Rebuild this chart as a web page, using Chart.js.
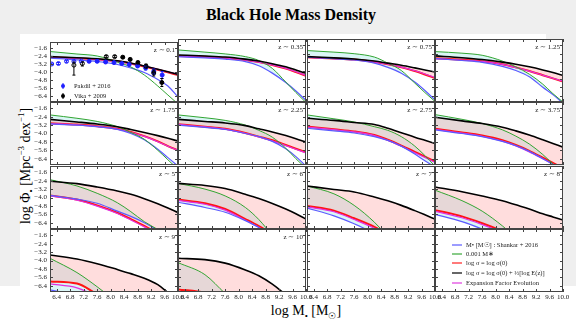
<!DOCTYPE html>
<html>
<head>
<meta charset="utf-8">
<script src="https://cdn.jsdelivr.net/npm/chart.js@4.4.0/dist/chart.umd.min.js"></script>
<style>
  body { margin: 0; width: 576px; height: 321px; background: #efefef; position: relative; overflow: hidden; font-family: "Liberation Serif", serif; }
  #sheet { position: absolute; left: 20px; top: 34px; width: 526px; height: 287px; background: #fff; }
  #strip { position: absolute; left: 0; top: 286px; width: 576px; height: 35px; background: #fff; }
  #title { position: absolute; left: 3px; width: 576px; top: 6px; text-align: center; font-weight: bold; font-size: 16px; }
  #ylab { position: absolute; left: 26px; top: 166px; transform: translate(-50%, -50%) rotate(-90deg); white-space: nowrap; font-size: 14px; }
  #xlab { position: absolute; left: 306px; top: 312px; transform: translate(-50%, -50%); white-space: nowrap; font-size: 14px; }
  sup, sub { font-size: 9px; }
  canvas { position: absolute; }
</style>
</head>
<body>
<div id="sheet"></div>
<div id="strip"></div>
<div id="title">Black Hole Mass Density</div>
<div id="ylab">log Φ<sub>•</sub> [Mpc<sup>−3</sup> dex<sup>−1</sup>]</div>
<div id="xlab">log M<sub>•</sub> [M<sub>☉</sub>]</div>
<script>
Chart.defaults.font.family = '"Liberation Serif", serif';

// --- data ---
const massGrid = [6.2, 7.0, 7.6, 8.2, 8.6, 9.0, 9.4, 9.7, 10.0];
const massTicks = [6.4, 6.8, 7.2, 7.6, 8.0, 8.4, 8.8, 9.2, 9.6, 10.0];
const phiTicks = [-1.6, -2.4, -3.2, -4.0, -4.8, -5.6, -6.4];
const redshifts = ['0.1', '0.35', '0.75', '1.25', '1.75', '2.25', '2.75', '3.75', '5', '6', '7', '8', '9', '10'];

// blue: Shankar + 2016
const shankarPhi = [
  [-2.61, -2.78, -2.95, -3.25, -3.6, -4.05, -4.75, -5.4, -6.5],
  [-2.68, -2.8, -2.92, -3.15, -3.55, -4.25, -5.15, -5.95, -6.85],
  [-2.74, -2.88, -3.0, -3.3, -3.7, -4.26, -5.1, -5.9, -6.8],
  [-2.86, -3.05, -3.22, -3.6, -4.0, -4.6, -5.6, -6.3, -7.1],
  [-3.09, -3.2, -3.35, -3.6, -4.0, -4.6, -5.5, -6.3, -7.1],
  [-3.2, -3.42, -3.62, -4.0, -4.3, -4.75, -5.45, -6.2, -7.1],
  [-3.5, -3.75, -3.95, -4.3, -4.65, -5.2, -5.95, -6.6, -7.2],
  [-3.65, -4.0, -4.3, -4.75, -5.15, -5.7, -6.4, -6.95, -7.5],
  [-3.8, -4.15, -4.55, -5.3, -5.8, -6.4, -7.1, -7.6, -8.1],
  [-4.45, -4.95, -5.4, -6.2, -6.85, -7.5, -8.2, -8.7, -9.2],
  [-5.0, -5.75, -6.5, -7.4, -8.0, -8.6, -9.2, -9.6, -10.0],
  [-5.6, -6.3, -7.0, -7.8, -8.4, -9.0, -9.6, -10.0, -10.4],
  [-6.8, -7.3, -7.8, -8.4, -8.9, -9.4, -9.9, -10.3, -10.7],
  [-7.2, -7.7, -8.2, -8.8, -9.3, -9.8, -10.3, -10.7, -11.1]
];
// green: 0.001 M*
const starPhi = [
  [-1.95, -2.2, -2.4, -3.0, -3.5, -4.3, -5.4, -6.3, -7.2],
  [-2.04, -2.25, -2.42, -2.68, -3.05, -3.8, -5.1, -6.1, -7.05],
  [-2.1, -2.25, -2.4, -2.72, -3.3, -4.0, -5.2, -6.1, -6.95],
  [-2.2, -2.35, -2.55, -3.1, -3.65, -4.35, -5.3, -6.2, -7.0],
  [-2.23, -2.55, -2.85, -3.35, -3.9, -4.55, -5.6, -6.5, -7.4],
  [-2.23, -2.5, -2.75, -3.2, -3.7, -4.35, -5.4, -6.4, -7.3],
  [-2.23, -2.6, -2.9, -3.35, -3.7, -4.3, -5.2, -6.1, -7.1],
  [-2.2, -2.65, -3.05, -3.65, -4.25, -5.0, -6.0, -6.9, -7.8],
  [-2.3, -2.9, -3.6, -4.5, -5.35, -6.3, -7.05, -7.7, -8.3],
  [-2.65, -3.2, -3.85, -4.95, -6.1, -7.6, -9.0, -10.0, -11.0],
  [-2.9, -3.65, -4.75, -6.35, -7.7, -9.0, -10.3, -11.2, -12.0],
  [-3.3, -4.3, -5.3, -6.7, -7.8, -8.9, -9.9, -10.5, -11.1],
  [-3.79, -5.15, -6.5, -8.0, -9.0, -10.0, -11.0, -11.6, -12.2],
  [-4.2, -5.35, -7.15, -8.9, -10.0, -11.0, -12.0, -12.6, -13.2]
];
// red: log sigma = log sigma(0)
const sigmaConstPhi = [
  [-2.5, -2.62, -2.72, -2.92, -3.14, -3.45, -3.78, -4.04, -4.3],
  [-2.61, -2.7, -2.8, -3.0, -3.2, -3.48, -3.82, -4.15, -4.5],
  [-2.74, -2.85, -2.96, -3.18, -3.4, -3.7, -4.05, -4.38, -4.73],
  [-2.84, -2.98, -3.12, -3.4, -3.7, -4.05, -4.45, -4.75, -5.05],
  [-3.03, -3.15, -3.3, -3.55, -3.85, -4.25, -4.75, -5.2, -5.6],
  [-3.12, -3.35, -3.55, -3.95, -4.3, -4.65, -5.1, -5.45, -5.8],
  [-3.34, -3.6, -3.8, -4.15, -4.6, -5.15, -5.75, -6.2, -6.66],
  [-3.55, -3.9, -4.2, -4.65, -5.1, -5.65, -6.3, -6.8, -7.3],
  [-3.8, -4.2, -4.75, -5.45, -6.05, -6.7, -7.45, -8.1, -8.7],
  [-4.2, -4.55, -5.1, -6.05, -6.72, -7.5, -8.3, -9.0, -9.6],
  [-4.8, -5.25, -5.98, -6.8, -7.5, -8.2, -8.9, -9.4, -9.9],
  [-5.2, -5.8, -6.45, -7.2, -7.8, -8.4, -9.0, -9.5, -10.0],
  [-6.0, -6.2, -7.2, -8.1, -8.7, -9.3, -9.9, -10.4, -10.8],
  [-6.75, -7.05, -7.5, -8.1, -8.6, -9.1, -9.6, -10.0, -10.4]
];
// black: log sigma = log sigma(0) + 1/3 log E(z)
const sigmaEvolPhi = [
  [-2.46, -2.58, -2.68, -2.88, -3.1, -3.4, -3.72, -3.98, -4.22],
  [-2.52, -2.62, -2.72, -2.92, -3.1, -3.35, -3.65, -3.95, -4.26],
  [-2.68, -2.8, -2.9, -3.1, -3.3, -3.5, -3.75, -3.95, -4.15],
  [-2.61, -2.78, -2.95, -3.2, -3.4, -3.65, -3.95, -4.2, -4.48],
  [-2.65, -2.9, -3.1, -3.35, -3.62, -3.9, -4.2, -4.45, -4.72],
  [-2.65, -2.85, -3.0, -3.25, -3.55, -3.85, -4.2, -4.5, -4.83],
  [-2.55, -2.75, -2.95, -3.15, -3.5, -3.92, -4.35, -4.65, -4.95],
  [-2.45, -2.8, -3.05, -3.4, -3.75, -4.15, -4.6, -4.95, -5.3],
  [-2.45, -2.68, -3.0, -3.38, -3.7, -4.12, -4.6, -5.0, -5.43],
  [-2.65, -2.85, -3.15, -3.7, -4.1, -4.57, -5.1, -5.55, -6.06],
  [-2.9, -3.24, -3.47, -3.95, -4.32, -4.75, -5.25, -5.65, -6.06],
  [-3.0, -3.45, -3.85, -4.3, -4.7, -5.1, -5.55, -5.85, -6.15],
  [-3.47, -3.85, -4.3, -4.86, -5.25, -5.68, -6.3, -7.05, -7.8],
  [-3.79, -3.92, -4.25, -4.9, -5.45, -6.25, -7.25, -8.0, -8.8]
];
// magenta: expansion factor evolution
const expansionPhi = [
  [-2.52, -2.63, -2.73, -2.93, -3.13, -3.42, -3.74, -3.99, -4.24],
  [-2.62, -2.71, -2.81, -3.01, -3.2, -3.47, -3.8, -4.12, -4.46],
  [-2.75, -2.86, -2.97, -3.18, -3.4, -3.68, -4.02, -4.33, -4.66],
  [-2.86, -3.0, -3.14, -3.42, -3.72, -4.06, -4.45, -4.74, -5.02],
  [-3.05, -3.17, -3.32, -3.58, -3.88, -4.28, -4.78, -5.22, -5.6],
  [-3.14, -3.37, -3.58, -3.98, -4.33, -4.7, -5.15, -5.5, -5.85],
  [-3.38, -3.64, -3.85, -4.2, -4.66, -5.22, -5.83, -6.28, -6.75],
  [-3.6, -3.96, -4.27, -4.73, -5.19, -5.75, -6.4, -6.9, -7.4],
  [-3.85, -4.26, -4.82, -5.53, -6.14, -6.8, -7.55, -8.2, -8.8],
  [-4.28, -4.64, -5.2, -6.16, -6.84, -7.62, -8.4, -9.1, -9.7],
  [-4.9, -5.36, -6.1, -6.93, -7.63, -8.33, -9.03, -9.53, -10.0],
  [-5.32, -5.93, -6.58, -7.33, -7.93, -8.53, -9.13, -9.63, -10.1],
  [-6.22, -6.6, -7.4, -8.3, -8.9, -9.5, -10.1, -10.6, -11.0],
  [-6.95, -7.3, -7.7, -8.3, -8.8, -9.3, -9.8, -10.2, -10.6]
];

// observed points, z ~ 0.1
const pakdilMass = [6.25, 6.45, 6.69, 6.91, 7.13, 7.36, 7.6, 7.85, 8.1, 8.33, 8.55, 8.8, 9.04, 9.28, 9.53];
const pakdilPhi = [-3.2, -3.15, -2.93, -2.93, -2.93, -2.93, -2.93, -3.0, -3.06, -3.15, -3.25, -3.4, -3.6, -3.95, -4.3];
const pakdilErr = [0.1, 0.1, 0.1, 0.1, 0.1, 0.1, 0.1, 0.1, 0.1, 0.1, 0.12, 0.15, 0.2, 0.25, 0.35];
const pakdilOpen = [true, true, true, true, true, false, false, false, false, false, false, false, false, false, false];
const vikaMass = [6.91, 7.16, 7.87, 8.12, 8.36, 8.58, 8.81, 9.05, 9.28, 9.52];
const vikaPhi = [-3.31, -3.15, -2.46, -2.46, -2.52, -2.74, -3.06, -3.41, -4.1, -5.05];
const vikaErrLo = [1.0, 0.25, 0.1, 0.1, 0.1, 0.12, 0.15, 0.2, 0.3, 0.4];
const vikaErrHi = [0.3, 0.15, 0.1, 0.1, 0.1, 0.12, 0.15, 0.2, 0.3, 0.4];
const vikaOpen = [true, true, true, true, false, false, false, false, false, false];

const legendLabels = ['M• [M☉] : Shankar + 2016', '0.001 M∗', 'log σ = log σ(0)', 'log σ = log σ(0) + ⅓[log E(z)]', 'Expansion Factor Evolution'];
const legendColors = ['#5a5aff', '#3aa83a', '#ff2020', '#000000', '#e03ce0'];

// --- layout ---
const PADL = 30, PADR = 14, PADT = 2, PADB = 14;
const colLeft = [50, 178.3, 306.7, 435];
const rowTop = [39, 102.3, 165.7, 229];
const panelW = 128.3, panelH = 63.3;

const pts = ys => massGrid.map((m, i) => ({x: m, y: ys[i]}));

const framePlugin = {
  id: 'frame',
  beforeDraw(chart) {
    const {ctx, chartArea: a} = chart;
    ctx.save();
    ctx.fillStyle = '#fff';
    ctx.fillRect(a.left, a.top, a.width, a.height);
    ctx.restore();
  },
  afterDraw(chart, args, o) {
    const {ctx, chartArea: a, scales: {x, y}} = chart;
    ctx.save();
    // error bars + small legend for the z~0.1 panel
    if (o.observed) {
      ctx.lineWidth = 1;
      const bar = (m, v, lo, hi, col) => {
        const px = x.getPixelForValue(m);
        ctx.strokeStyle = col;
        ctx.beginPath();
        ctx.moveTo(px, y.getPixelForValue(v + hi)); ctx.lineTo(px, y.getPixelForValue(v - lo));
        ctx.moveTo(px - 1.5, y.getPixelForValue(v + hi)); ctx.lineTo(px + 1.5, y.getPixelForValue(v + hi));
        ctx.moveTo(px - 1.5, y.getPixelForValue(v - lo)); ctx.lineTo(px + 1.5, y.getPixelForValue(v - lo));
        ctx.stroke();
      };
      pakdilMass.forEach((m, i) => bar(m, pakdilPhi[i], pakdilErr[i], pakdilErr[i], '#2020ff'));
      vikaMass.forEach((m, i) => bar(m, vikaPhi[i], vikaErrLo[i], vikaErrHi[i], '#000'));
      ['Pakdil + 2016', 'Vika + 2009'].forEach((t, i) => {
        const col = i ? '#000' : '#2020ff';
        const yy = a.top + 44 + i * 10;
        ctx.strokeStyle = col; ctx.fillStyle = col;
        ctx.beginPath(); ctx.moveTo(a.left + 13, yy - 3); ctx.lineTo(a.left + 13, yy + 3); ctx.stroke();
        ctx.beginPath(); ctx.arc(a.left + 13, yy, 2, 0, Math.PI * 2); ctx.fill();
        ctx.fillStyle = '#222'; ctx.font = '6.5px "Liberation Serif"';
        ctx.textAlign = 'left'; ctx.textBaseline = 'middle';
        ctx.fillText(t, a.left + 24, yy);
      });
    }
    if (o.legend) {
      ctx.font = '6.5px "Liberation Serif"';
      ctx.textAlign = 'left'; ctx.textBaseline = 'middle';
      legendLabels.forEach((t, i) => {
        const yy = a.top + [16, 25, 34, 44, 54][i];
        ctx.strokeStyle = legendColors[i]; ctx.lineWidth = 1.2;
        ctx.beginPath(); ctx.moveTo(a.left + 17, yy); ctx.lineTo(a.left + 27, yy); ctx.stroke();
        ctx.fillStyle = '#222';
        ctx.fillText(t, a.left + 31, yy);
      });
    }
    // frame and inward ticks
    ctx.strokeStyle = '#444';
    ctx.lineWidth = 1;
    ctx.strokeRect(a.left + 0.5, a.top + 0.5, a.width - 1, a.height - 1);
    ctx.beginPath();
    massTicks.forEach(v => {
      const px = Math.round(x.getPixelForValue(v)) + 0.5;
      ctx.moveTo(px, a.bottom); ctx.lineTo(px, a.bottom - 3);
      ctx.moveTo(px, a.top); ctx.lineTo(px, a.top + 3);
    });
    phiTicks.forEach(v => {
      const py = Math.round(y.getPixelForValue(v)) + 0.5;
      ctx.moveTo(a.left, py); ctx.lineTo(a.left + 3, py);
      ctx.moveTo(a.right, py); ctx.lineTo(a.right - 3, py);
    });
    ctx.stroke();
    ctx.fillStyle = '#222';
    ctx.font = '7px "Liberation Serif"';
    if (o.showY) {
      ctx.textAlign = 'right'; ctx.textBaseline = 'middle';
      phiTicks.forEach(v => ctx.fillText('−' + Math.abs(v).toFixed(1), a.left - 3, y.getPixelForValue(v)));
    }
    if (o.showX) {
      ctx.textAlign = 'center'; ctx.textBaseline = 'middle';
      massTicks.forEach(v => ctx.fillText(v.toFixed(1), x.getPixelForValue(v), a.bottom + 5.5));
    }
    if (o.label) {
      ctx.textAlign = 'right'; ctx.textBaseline = 'middle';
      ctx.fillText(o.label, a.right - 3, a.top + 8.5);
    }
    ctx.restore();
  }
};

function curve(data, color, width, order, fill) {
  return {
    type: 'line', data: pts(data), borderColor: color, borderWidth: width,
    pointRadius: 0, cubicInterpolationMode: 'monotone', order, fill: fill || false
  };
}

for (let i = 0; i < 16; i++) {
  const col = i % 4, row = Math.floor(i / 4);
  const cv = document.createElement('canvas');
  const left = Math.round(colLeft[col]) - PADL, top = Math.round(rowTop[row]) - PADT;
  cv.width = Math.round(panelW) + PADL + PADR;
  cv.height = Math.round(panelH) + PADT + PADB;
  cv.style.left = left + 'px';
  cv.style.top = top + 'px';
  document.body.appendChild(cv);

  const datasets = [];
  if (i < 14) {
    datasets.push(
      curve(shankarPhi[i], 'rgb(90,90,255)', 1.2, 2),
      // light cyan between the 0.001 M* line and Shankar (shows grey where it overlaps the pink band)
      curve(starPhi[i], 'rgb(50,165,50)', 1, 1, {target: 0, above: 'rgba(150,230,230,0.35)', below: 'rgba(0,0,0,0)'}),
      curve(sigmaConstPhi[i], 'rgb(255,20,20)', 2, 4),
      curve(sigmaEvolPhi[i], '#000', 1.6, 0, {target: 2, above: 'rgba(255,150,150,0.32)', below: 'rgba(255,150,150,0.32)'}),
      curve(expansionPhi[i], 'rgb(225,50,225)', 1.2, 3)
    );
  }
  if (i === 0) {
    datasets.push({
      type: 'line', showLine: false, order: -1,
      data: pakdilMass.map((m, k) => ({x: m, y: pakdilPhi[k]})),
      pointRadius: 2, pointBorderWidth: 1, pointBorderColor: '#2020ff',
      pointBackgroundColor: pakdilOpen.map(op => op ? '#fff' : '#2020ff')
    }, {
      type: 'line', showLine: false, order: -2,
      data: vikaMass.map((m, k) => ({x: m, y: vikaPhi[k]})),
      pointRadius: 2, pointBorderWidth: 1, pointBorderColor: '#000',
      pointBackgroundColor: vikaOpen.map(op => op ? '#fff' : '#000')
    });
  }

  new Chart(cv, {
    type: 'line',
    data: {datasets},
    options: {
      responsive: false,
      animation: false,
      devicePixelRatio: 1,
      layout: {padding: {left: PADL, right: PADR, top: PADT, bottom: PADB}},
      scales: {
        x: {type: 'linear', min: 6.2, max: 10.0, display: false},
        y: {type: 'linear', min: -7.0, max: -1.0, display: false}
      },
      plugins: {
        legend: {display: false},
        tooltip: {enabled: false},
        filler: {drawTime: 'beforeDatasetsDraw'},
        frame: {
          showY: col === 0,
          showX: row === 3,
          label: i < 14 ? 'z ∼ ' + redshifts[i] : '',
          observed: i === 0,
          legend: i === 15
        }
      }
    },
    plugins: [framePlugin]
  });
}
</script>
</body>
</html>
